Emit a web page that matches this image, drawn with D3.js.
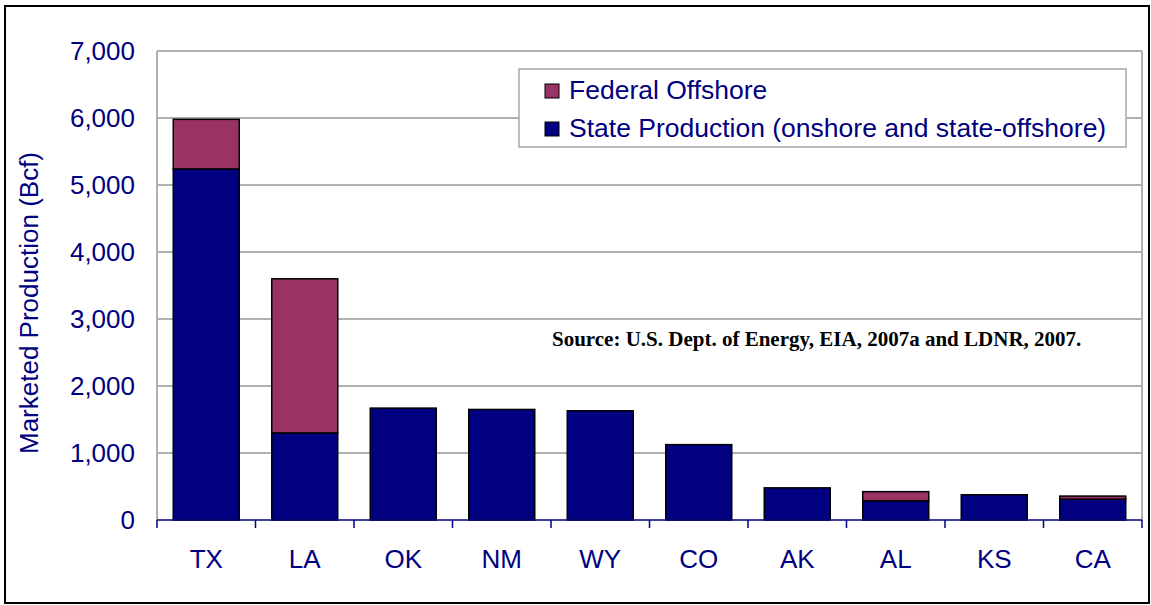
<!DOCTYPE html>
<html>
<head>
<meta charset="utf-8">
<script src="https://cdn.jsdelivr.net/npm/d3@7"></script>
<style>
  body { margin: 0; background: #fff; }
  text { font-family: "Liberation Sans", Arial, sans-serif; }
</style>
</head>
<body>
<div id="chart"></div>
<script>
// data (Bcf)
const states = ['TX', 'LA', 'OK', 'NM', 'WY', 'CO', 'AK', 'AL', 'KS', 'CA'];
const stateProduction = [5240, 1300, 1670, 1650, 1630, 1125, 480, 288, 377, 312];
const federalOffshore = [740, 2300, 0, 0, 0, 0, 0, 135, 0, 45];
const yTicks = [0, 1000, 2000, 3000, 4000, 5000, 6000, 7000];
const seriesNames = ['Federal Offshore', 'State Production (onshore and state-offshore)'];

const W = 1151, H = 605;
const navy = '#000080', plum = '#993366';
const plot = { left: 157, right: 1142, top: 51, bottom: 520 };

const svg = d3.select('#chart').append('svg')
  .attr('width', W).attr('height', H);

// outer frame
svg.append('rect')
  .attr('x', 5).attr('y', 6).attr('width', 1144).attr('height', 597)
  .attr('fill', 'none').attr('stroke', '#000').attr('stroke-width', 2);

const x = d3.scaleBand().domain(states)
  .range([plot.left, plot.right])
  .paddingInner(0.33).paddingOuter(0.165);

const y = d3.scaleLinear().domain([0, 7000]).range([plot.bottom, plot.top]);

// gridlines
svg.append('g').selectAll('line')
  .data(yTicks.filter(d => d > 0))
  .join('line')
  .attr('x1', plot.left).attr('x2', plot.right)
  .attr('y1', d => y(d)).attr('y2', d => y(d))
  .attr('stroke', '#b0b0b0').attr('stroke-width', 2);

// plot sides
svg.append('line').attr('x1', plot.left).attr('x2', plot.left)
  .attr('y1', plot.top).attr('y2', plot.bottom)
  .attr('stroke', '#b0b0b0').attr('stroke-width', 2);
svg.append('line').attr('x1', plot.right).attr('x2', plot.right)
  .attr('y1', plot.top).attr('y2', plot.bottom)
  .attr('stroke', '#b0b0b0').attr('stroke-width', 2);

// y tick labels
svg.append('g').selectAll('text')
  .data(yTicks)
  .join('text')
  .attr('x', 135).attr('y', d => y(d)).attr('dy', '0.36em')
  .attr('text-anchor', 'end')
  .attr('font-size', 26).attr('fill', navy)
  .text(d3.format(','));

// y title
svg.append('text')
  .attr('transform', 'translate(38,303) rotate(-90)')
  .attr('text-anchor', 'middle')
  .attr('font-size', 26).attr('fill', navy)
  .text('Marketed Production (Bcf)');

// stacked bars
const rows = states.map((s, i) => ({ state: s, stateProd: stateProduction[i], federal: federalOffshore[i] }));
const stack = d3.stack().keys(['stateProd', 'federal'])(rows);
const colours = { stateProd: navy, federal: plum };

svg.append('g').selectAll('g')
  .data(stack)
  .join('g')
  .attr('fill', d => colours[d.key])
  .selectAll('rect')
  .data(d => d.filter(v => v[1] > v[0]))
  .join('rect')
  .attr('x', d => x(d.data.state))
  .attr('width', x.bandwidth())
  .attr('y', d => y(d[1]))
  .attr('height', d => y(d[0]) - y(d[1]))
  .attr('stroke', '#000').attr('stroke-width', 1.5);

// x axis
const xAxis = svg.append('g').attr('transform', `translate(0,${plot.bottom})`);
xAxis.append('line').attr('x1', plot.left).attr('x2', plot.right)
  .attr('stroke', navy).attr('stroke-width', 1.5);
const step = x.step();
const tickPos = d3.range(states.length + 1).map(i => plot.left + i * step);
xAxis.selectAll('line.tick').data(tickPos).join('line')
  .attr('class', 'tick')
  .attr('x1', d => d).attr('x2', d => d)
  .attr('y1', 0).attr('y2', 8)
  .attr('stroke', navy).attr('stroke-width', 1.5);
xAxis.selectAll('text').data(states).join('text')
  .attr('x', d => x(d) + x.bandwidth() / 2)
  .attr('y', 48)
  .attr('text-anchor', 'middle')
  .attr('font-size', 26).attr('fill', navy)
  .text(d => d);

// legend
const legend = svg.append('g');
legend.append('rect')
  .attr('x', 519).attr('y', 69).attr('width', 607).attr('height', 78)
  .attr('fill', '#fff').attr('stroke', '#a8a8a8').attr('stroke-width', 1.5);
const legendColours = [plum, navy];
seriesNames.forEach((name, i) => {
  const by = 99 + i * 38;
  legend.append('rect')
    .attr('x', 545).attr('y', by - 15).attr('width', 14).attr('height', 14)
    .attr('fill', legendColours[i]).attr('stroke', '#000').attr('stroke-width', 1);
  legend.append('text')
    .attr('x', 569).attr('y', by)
    .attr('font-size', 26.5).attr('fill', navy)
    .text(name);
});

// source note
svg.append('text')
  .attr('x', 552).attr('y', 346)
  .style('font-family', '"Liberation Serif", "Times New Roman", serif')
  .attr('font-size', 21).attr('font-weight', 'bold').attr('fill', '#000')
  .text('Source: U.S. Dept. of Energy, EIA, 2007a and LDNR, 2007.');
</script>
</body>
</html>
